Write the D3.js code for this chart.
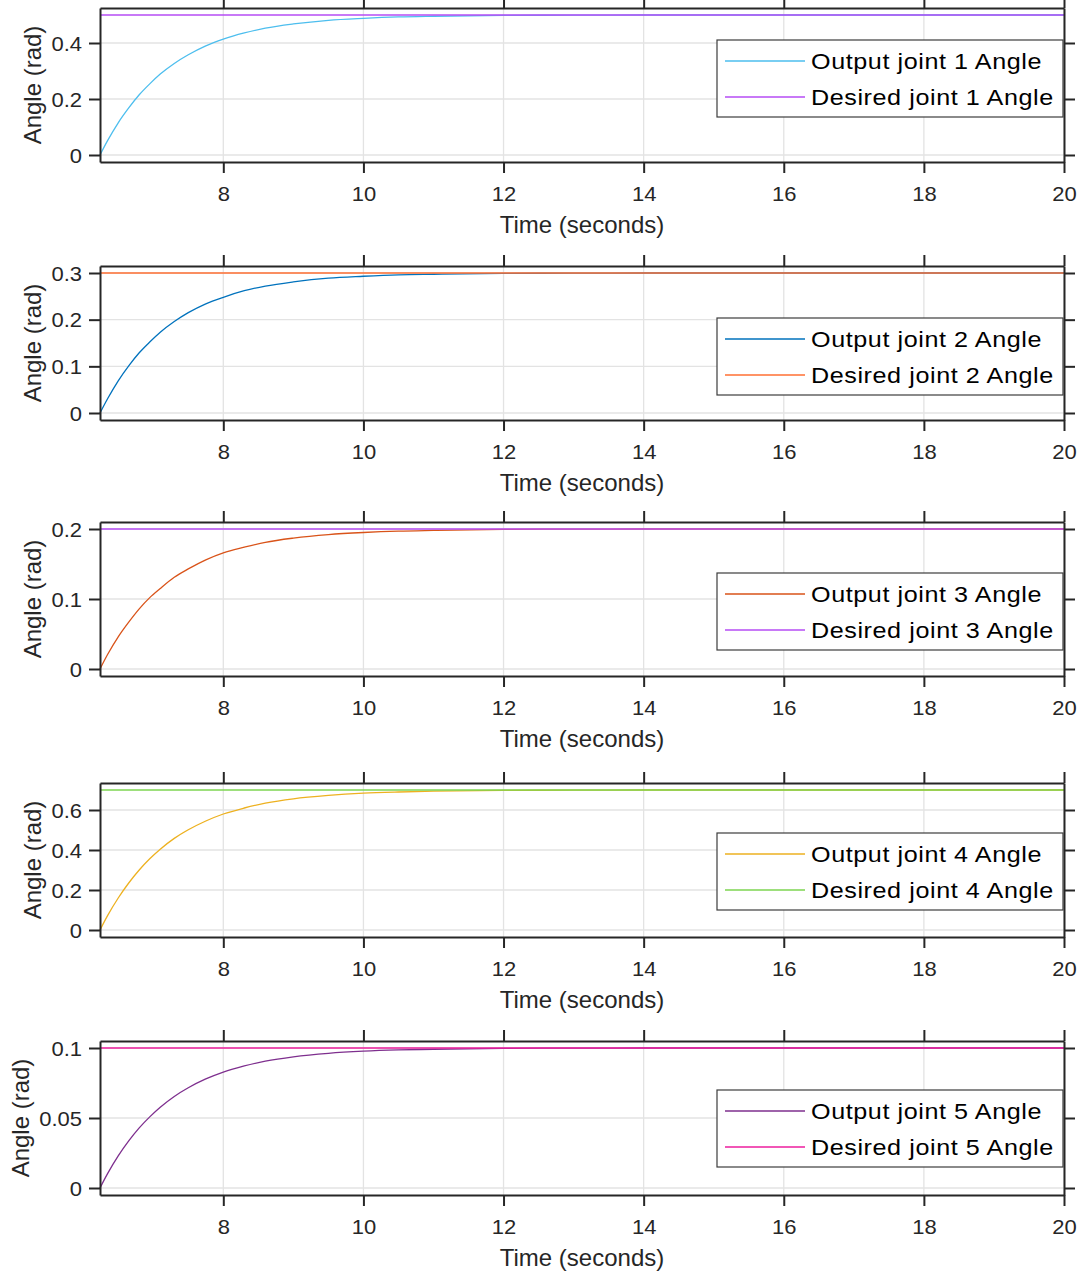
<!DOCTYPE html>
<html>
<head>
<meta charset="utf-8">
<script src="https://cdn.jsdelivr.net/npm/d3@7"></script>
<style>
  body { margin: 0; background: #fff; }
  svg { display: block; }
  text { font-family: "Liberation Sans", Arial, sans-serif; }
</style>
</head>
<body>
<div id="chart"></div>
<script>
// time samples (s)
const time = [6.24, 6.35, 6.5, 6.65, 6.8, 6.95, 7.1, 7.3, 7.5, 7.75, 8, 8.3, 8.6, 9, 9.5, 10, 10.5, 11, 12, 13, 14, 16, 20];

// output joint angles (rad)
const out1 = [0, 0.052, 0.115, 0.168, 0.215, 0.254, 0.289, 0.327, 0.358, 0.39, 0.414, 0.436, 0.453, 0.468, 0.481, 0.488, 0.493, 0.4955, 0.4985, 0.4994, 0.5, 0.5, 0.5];
const out2 = [0, 0.031, 0.069, 0.101, 0.129, 0.152, 0.173, 0.196, 0.215, 0.234, 0.248, 0.262, 0.272, 0.281, 0.289, 0.293, 0.296, 0.2973, 0.2991, 0.2996, 0.3, 0.3, 0.3];
const out3 = [0, 0.021, 0.046, 0.067, 0.086, 0.102, 0.115, 0.131, 0.143, 0.156, 0.166, 0.174, 0.181, 0.187, 0.192, 0.195, 0.197, 0.198, 0.1994, 0.1998, 0.2, 0.2, 0.2];
const out4 = [0, 0.073, 0.16, 0.235, 0.3, 0.356, 0.404, 0.458, 0.501, 0.545, 0.58, 0.61, 0.634, 0.656, 0.673, 0.684, 0.69, 0.694, 0.698, 0.6992, 0.7, 0.7, 0.7];
const out5 = [0, 0.0104, 0.0229, 0.0336, 0.0429, 0.0508, 0.0577, 0.0654, 0.0716, 0.0779, 0.0828, 0.0872, 0.0906, 0.0937, 0.0962, 0.0977, 0.0986, 0.0991, 0.0997, 0.0999, 0.1, 0.1, 0.1];

// desired joint angles (rad), constant setpoints
const desiredTime = [6.24, 20];
const desired1 = [0.5, 0.5];
const desired2 = [0.3, 0.3];
const desired3 = [0.2, 0.2];
const desired4 = [0.7, 0.7];
const desired5 = [0.1, 0.1];

// axes
const xTicks = [8, 10, 12, 14, 16, 18, 20];
const yTicks1 = [0, 0.2, 0.4];
const yTicks2 = [0, 0.1, 0.2, 0.3];
const yTicks3 = [0, 0.1, 0.2];
const yTicks4 = [0, 0.2, 0.4, 0.6];
const yTicks5 = [0, 0.05, 0.1];
const yLimits1 = [-0.025, 0.525];
const yLimits2 = [-0.015, 0.315];
const yLimits3 = [-0.01, 0.21];
const yLimits4 = [-0.035, 0.735];
const yLimits5 = [-0.005, 0.105];

const outColors = ["#4DBEEE", "#0072BD", "#D95319", "#EDB120", "#7E2F8E"];
const desiredColors = ["#B64CF5", "#FF6F33", "#B64CF5", "#7CD450", "#EC1E9E"];

const panels = [
    { out: out1, des: desired1, ticks: yTicks1, lim: yLimits1 },
    { out: out2, des: desired2, ticks: yTicks2, lim: yLimits2 },
    { out: out3, des: desired3, ticks: yTicks3, lim: yLimits3 },
    { out: out4, des: desired4, ticks: yTicks4, lim: yLimits4 },
    { out: out5, des: desired5, ticks: yTicks5, lim: yLimits5 }
];

const width = 1079, height = 1272;
const left = 100, right = 1064, plotH = 154;
const panelTops = [8, 266, 522, 783, 1041];
const legendTops = [40, 318, 573, 833, 1090];
const axisColor = "#262626";
const stretch = 1.1; // tick labels are drawn a bit wider than plain Arial

const svg = d3.select("#chart").append("svg")
    .attr("width", width)
    .attr("height", height);

const x = d3.scaleLinear().domain(d3.extent(time)).range([left, right]);

panels.forEach((p, i) => {
    const top = panelTops[i], bottom = top + plotH;
    const y = d3.scaleLinear().domain(p.lim).range([bottom, top]);
    const g = svg.append("g");

    // grid
    g.append("g").selectAll("line").data(xTicks).join("line")
        .attr("x1", d => x(d)).attr("x2", d => x(d))
        .attr("y1", top).attr("y2", bottom)
        .attr("stroke", "#e3e3e3").attr("stroke-width", 1.3);
    g.append("g").selectAll("line").data(p.ticks).join("line")
        .attr("x1", left).attr("x2", right)
        .attr("y1", d => y(d)).attr("y2", d => y(d))
        .attr("stroke", "#e3e3e3").attr("stroke-width", 1.3);

    const line = d3.line()
        .x(d => x(d[0]))
        .y(d => y(d[1]))
        .curve(d3.curveMonotoneX);

    g.append("path")
        .datum(time.map((t, j) => [t, p.out[j]]))
        .attr("fill", "none")
        .attr("stroke", outColors[i])
        .attr("stroke-width", 1.3)
        .attr("d", line);

    g.append("path")
        .datum(desiredTime.map((t, j) => [t, p.des[j]]))
        .attr("fill", "none")
        .attr("stroke", desiredColors[i])
        .attr("stroke-width", 1.6)
        .attr("d", line);

    // box + ticks on all four sides
    const xAxis = g.append("g")
        .attr("transform", "translate(0," + bottom + ")")
        .call(d3.axisBottom(x).tickValues(xTicks).tickSizeInner(11).tickSizeOuter(0).tickPadding(14));
    g.append("g")
        .attr("transform", "translate(0," + top + ")")
        .call(d3.axisTop(x).tickValues(xTicks).tickSizeInner(11).tickSizeOuter(0).tickFormat(""));
    const yAxis = g.append("g")
        .attr("transform", "translate(" + left + ",0)")
        .call(d3.axisLeft(y).tickValues(p.ticks).tickSizeInner(11).tickSizeOuter(0).tickPadding(7).tickFormat(d3.format("")));
    g.append("g")
        .attr("transform", "translate(" + right + ",0)")
        .call(d3.axisRight(y).tickValues(p.ticks).tickSizeInner(11).tickSizeOuter(0).tickFormat(""));

    g.selectAll(".domain, .tick line")
        .attr("stroke", axisColor)
        .attr("stroke-width", 2);
    g.selectAll(".tick text")
        .attr("fill", axisColor)
        .style("font-size", "20px")
        .style("font-family", '"Liberation Sans", Arial, sans-serif');
    xAxis.selectAll(".tick text")
        .attr("transform", "scale(" + stretch + ",1)");
    yAxis.selectAll(".tick text")
        .attr("x", 0)
        .attr("dy", "0.36em")
        .attr("transform", "translate(-18,0) scale(" + stretch + ",1)");

    // axis labels
    g.append("text")
        .attr("x", (left + right) / 2)
        .attr("y", bottom + 71)
        .attr("text-anchor", "middle")
        .attr("fill", axisColor)
        .style("font-size", "24px")
        .text("Time (seconds)");

    let tickLeft = left;
    yAxis.selectAll(".tick text").each(function() {
        tickLeft = Math.min(tickLeft, this.getBoundingClientRect().left);
    });
    g.append("text")
        .attr("transform", "translate(" + (tickLeft - 10) + "," + ((top + bottom) / 2) + ") rotate(-90)")
        .attr("text-anchor", "middle")
        .attr("fill", axisColor)
        .style("font-size", "24px")
        .text("Angle (rad)");

    // legend
    const lt = legendTops[i];
    const leg = g.append("g");
    leg.append("rect")
        .attr("x", 717).attr("y", lt)
        .attr("width", 346).attr("height", 77)
        .attr("fill", "#fff")
        .attr("stroke", "#3c3c3c")
        .attr("stroke-width", 1.2);
    const entries = [
        { label: "Output joint " + (i + 1) + " Angle", color: outColors[i], dy: 21 },
        { label: "Desired joint " + (i + 1) + " Angle", color: desiredColors[i], dy: 57 }
    ];
    entries.forEach(e => {
        leg.append("line")
            .attr("x1", 725).attr("x2", 805)
            .attr("y1", lt + e.dy).attr("y2", lt + e.dy)
            .attr("stroke", e.color)
            .attr("stroke-width", 1.3);
        leg.append("text")
            .attr("transform", "translate(811," + (lt + e.dy + 8) + ") scale(1.17,1)")
            .attr("fill", "#000")
            .style("font-size", "21.5px")
            .style("letter-spacing", "0.5px")
            .text(e.label);
    });
});
</script>
</body>
</html>
